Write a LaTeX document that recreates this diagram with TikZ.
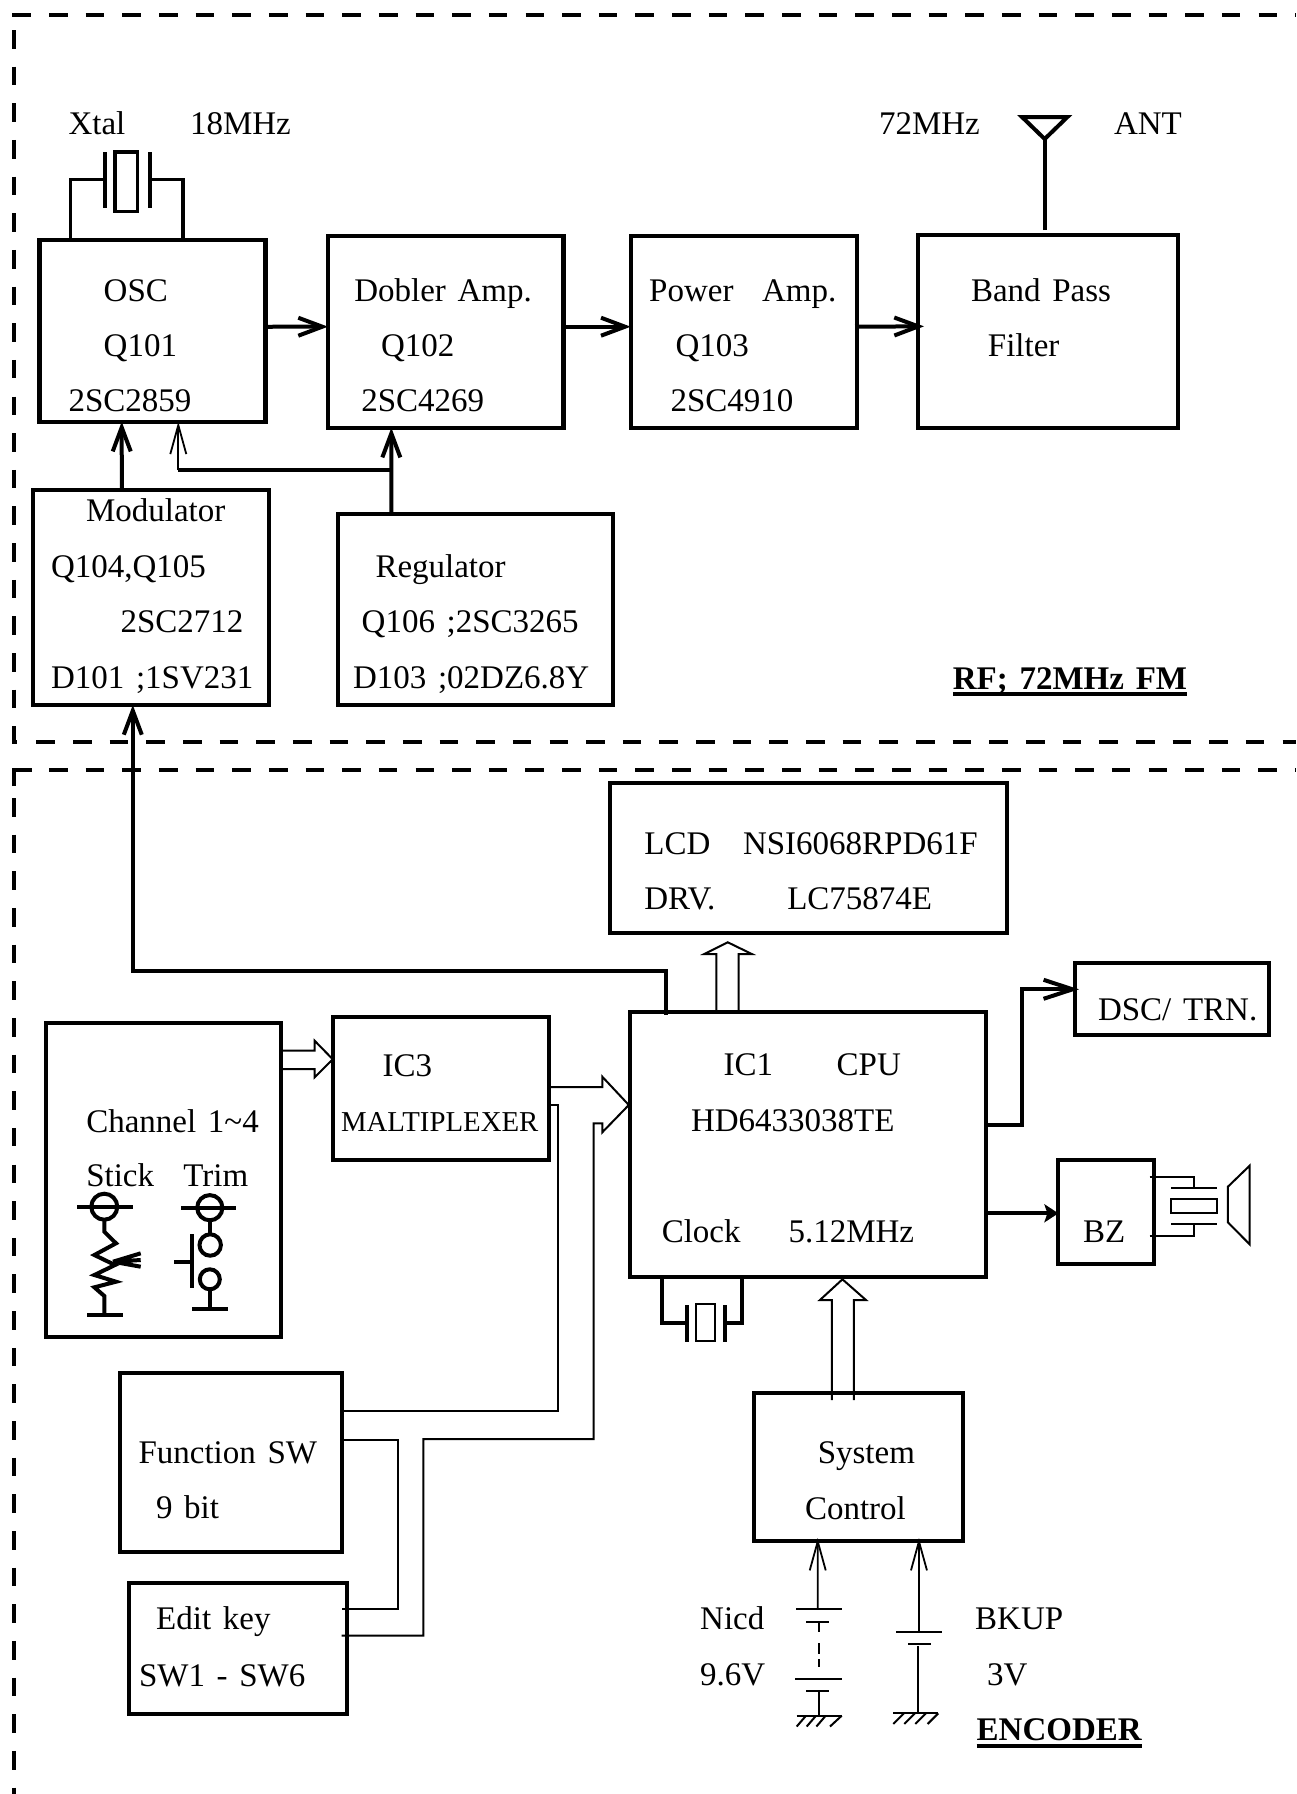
\documentclass[tikz,border=0pt]{standalone}
\usepackage{fontspec}
\setmainfont[WordSpace=1.42]{Liberation Serif}
\usetikzlibrary{arrows.meta}
\tikzset{
  blockbox/.style={draw,line width=4.1pt,inner sep=0,outer sep=0,line join=miter},
  txt/.style={anchor=base west,inner sep=0,outer sep=0,yshift=-1pt,font=\fontsize{33}{33}\selectfont},
  txtb/.style={txt,font=\fontsize{33}{33}\selectfont\bfseries},
  txts/.style={txt,font=\fontsize{28.8}{28.8}\selectfont},
  heavy/.style={line width=4pt},
  thinline/.style={line width=1.8pt},
  medium/.style={line width=3.2pt},
  bus/.style={line width=2pt,line join=miter},
  dashline/.style={line width=4pt,dash pattern=on 18.6pt off 18.05pt},
  barb/.style={-{Straight Barb[length=24pt,width=18pt,line width=4pt]},line width=4pt},
  barbthin/.style={-{Straight Barb[length=29pt,width=16pt,line width=1.8pt]},line width=1.8pt},
}
\newcommand\bx[5]{\node[blockbox,minimum width={(#4)-(#2)},minimum height={(#5)-(#3)}] (#1) at ({((#2)+(#4))/2},{((#3)+(#5))/2}) {};}
\begin{document}
\begin{tikzpicture}[x=1pt,y=-1pt]
\useasboundingbox (0,0) rectangle (1296,1794);

% dashed frames
\draw[dashline] (12.4,15) -- (1296,15);
\draw[dashline] (14,30) -- (14,741.7);
\draw[heavy] (12,741.7) -- (17,741.7);
\draw[dashline] (36.4,741.7) -- (1296,741.7);
\draw[heavy] (14,786) -- (14,770) -- (32,770);
\draw[dashline] (49,770) -- (1296,770);
\draw[dashline] (14,798) -- (14,1794);

% blocks
\bx{osc}{39.5}{240}{265.5}{421.7}
\bx{dob}{328}{235.7}{563.5}{427.7}
\bx{pwr}{630.7}{235.7}{857}{427.7}
\bx{bpf}{918}{235}{1178}{427.7}
\bx{mod}{32.8}{490}{268.8}{705}
\bx{reg}{338}{514.3}{612.6}{705}
\bx{lcd}{609.8}{782.7}{1006.6}{933}
\bx{cpu}{629.7}{1011.7}{986.4}{1277}
\bx{dsc}{1075}{962.7}{1269}{1035}
\bx{bz}{1058.4}{1160}{1153.8}{1264}
\bx{chn}{45.8}{1022.7}{281.4}{1337}
\bx{mux}{332.8}{1016.7}{549.4}{1160}
\bx{fn}{120}{1372.7}{341.7}{1552}
\bx{edit}{129}{1583.3}{347.3}{1714}
\bx{sys}{754}{1393}{962.7}{1540.7}

% texts
\node[txt] (t1) at (68.5,133.3) {Xtal};
\node[txt] (t2) at (190,133.3) {18MHz};
\node[txt] (t3) at (879,133.3) {72MHz};
\node[txt] (t4) at (1114,133.3) {ANT};
\node[txt] (t5) at (103.7,300) {OSC};
\node[txt] (t6) at (103.7,355.7) {Q101};
\node[txt] (t7) at (68.5,410.7) {2SC2859};
\node[txt] (t8) at (354.3,300) {Dobler Amp.};
\node[txt] (t9) at (381,355.7) {Q102};
\node[txt] (t10) at (361.3,410.7) {2SC4269};
\node[txt] (t11) at (649.2,300) {Power\hspace{28.5pt}Amp.};
\node[txt] (t12) at (675.5,355.7) {Q103};
\node[txt] (t13) at (670.6,410.7) {2SC4910};
\node[txt] (t14) at (971,300) {Band Pass};
\node[txt] (t15) at (987.9,355.7) {Filter};
\node[txt] (t16) at (86,520) {Modulator};
\node[txt] (t17) at (51,576) {Q104,Q105};
\node[txt] (t18) at (120.6,631.7) {2SC2712};
\node[txt] (t19) at (51,687.3) {D101 ;1SV231};
\node[txt] (t20) at (375.5,576.7) {Regulator};
\node[txt] (t21) at (361.7,631.7) {Q106 ;2SC3265};
\node[txt] (t22) at (353,687.3) {D103 ;02DZ6.8Y};
\node[txtb] (rf) at (952.9,688.3) {RF; 72MHz FM};
\draw[line width=4pt] ([yshift=-5]rf.base west) -- ([yshift=-5]rf.base east);
\node[txt] (t23) at (644.4,853.3) {LCD};
\node[txt] (t24) at (743,853.3) {NSI6068RPD61F};
\node[txt] (t25) at (644.4,908.3) {DRV.};
\node[txt] (t26) at (787.3,908.3) {LC75874E};
\node[txt] (t27) at (1098,1019.3) {DSC/ TRN.};
\node[txt] (t28) at (723.7,1074.3) {IC1};
\node[txt] (t29) at (836.7,1074.3) {CPU};
\node[txt] (t30) at (691,1130) {HD6433038TE};
\node[txt] (t31) at (661.8,1241) {Clock};
\node[txt] (t32) at (788.5,1241) {5.12MHz};
\node[txt] (t33) at (1083,1241) {BZ};
\node[txt] (t34) at (382.6,1075) {IC3};
\node[txts] (t35) at (341,1130.7) {MALTIPLEXER};
\node[txt] (t36) at (86.3,1131) {Channel 1\symbol{126}4};
\node[txt] (t37) at (86.3,1185.3) {Stick};
\node[txt] (t38) at (183.4,1185.3) {Trim};
\node[txt] (t39) at (138.5,1462.7) {Function SW};
\node[txt] (t40) at (156,1517.7) {9 bit};
\node[txt] (t41) at (156.2,1628.7) {Edit key};
\node[txt] (t42) at (139,1685) {SW1 - SW6};
\node[txt] (t43) at (817.8,1462.7) {System};
\node[txt] (t44) at (805,1518) {Control};
\node[txt] (t45) at (700.2,1628.3) {Nicd};
\node[txt] (t46) at (700.2,1684.3) {9.6V};
\node[txt] (t47) at (975.2,1628.3) {BKUP};
\node[txt] (t48) at (987,1684.3) {3V};
\node[txtb] (enc) at (976.7,1739) {ENCODER};
\draw[line width=4pt] ([yshift=-6.3]enc.base west) -- ([yshift=-6.3]enc.base east);

% signal chain
\draw[barb] ([yshift=4.1]osc.east) -- ([yshift=5]dob.west);
\draw[barb] ([yshift=5]dob.east) -- ([yshift=5]pwr.west);
\draw[barb] ([yshift=5,xshift=-2]pwr.east) -- ([yshift=5,xshift=6]bpf.west);
\draw[heavy] ([xshift=-3.3,yshift=5]bpf.north) -- ++(0,-91) coordinate (antb);
\draw[heavy,line join=miter] (antb) -- ++(-22.7,-22) -- ++(45.4,0) -- cycle;

% crystal 18 MHz
\draw[medium] ([xshift=-82,yshift=-1]osc.north) -- ++(0,-61.3) -- ++(33.2,0);
\draw[medium] ([xshift=30.5,yshift=-1]osc.north) -- ++(0,-61.3) -- ++(-31,0);
\draw[heavy] (105,152) -- (105,208);
\draw[heavy] (150,152) -- (150,208);
\draw[medium] (115,152) rectangle (137.8,211.7);

% modulator, regulator feeds
\draw[barb] ([xshift=-29]mod.north) -- ([xshift=-30.8]osc.south);
\draw[barb] ([xshift=-84]reg.north) -- ([xshift=-54.4]dob.south);
\coordinate (rj) at ([xshift=-84,yshift=44.3]reg.north);
\draw[heavy] (rj) -- (178.3,470) coordinate (rk);
\draw[barbthin] (rk) -- ([xshift=25.8]osc.south);

% cpu to modulator
\coordinate (jog) at (132.8,970.7);
\draw[barb] ([xshift=36,yshift=-3]cpu.north west) |- (jog) -- ([xshift=-18]mod.south);

% wide open arrows
\draw[bus] ([xshift=86.6]cpu.north west) -- ++(0,-57.7) -- ++(-12,0) -- ++(23.5,-11.7) -- ++(24,11.7) -- ++(-13.3,0) -- ([xshift=108.8]cpu.north west);
\draw[bus] ([yshift=-28]chn.north east) -- ++(33.2,0) -- ++(0,-10) -- ([yshift=-42.6]mux.north west) -- ++(-18.2,18) -- ++(0,-8.3) -- ([yshift=-46.3]chn.north east);
\draw[bus] ([xshift=-26.4,yshift=-7]sys.north) -- ++(0,-100) -- ++(-12,0) -- ++(22.5,-20.7) -- ++(23.5,20.7) -- ++(-12.2,0) -- ([xshift=-4.6,yshift=-7]sys.north);

% IC3 / function / edit bus
\draw[bus] ([yshift=-70.3]mux.north east) -- ++(52.9,0) -- ++(0,-10.3) -- ([xshift=-0.9,yshift=-93.3]cpu.north west) -- ++(-26.5,27.3) -- ++(0,-9) -- ++(-8.8,0) |- (423.3,1439) |- ([xshift=-5.6,yshift=-52.4]edit.north east);
\draw[bus] ([yshift=-88.6]mux.north east) -- ++(8.6,0) |- ([yshift=-38]fn.north east);
\draw[bus] ([yshift=-67.3]fn.north east) -- ++(56,0) |- ([xshift=-5,yshift=-26]edit.north east);

% DSC, buzzer
\draw[-{Straight Barb[length=29pt,width=19pt,line width=4pt]},line width=4pt] ([yshift=-113]cpu.north east) -- ++(35.2,0) |- ([xshift=4,yshift=-26.6]dsc.north west);
\draw[line width=4pt,-{Stealth[length=14pt,width=18pt,inset=3pt]}] ([yshift=-201.6]cpu.north east) -- ([yshift=-53.3]bz.north west);

% buzzer symbol
\draw[bus] ([xshift=-4.2,yshift=-17]bz.north east) -- ++(44.8,0) -- ++(0,10.7);
\draw[bus] ([xshift=-4.2,yshift=-75.7]bz.north east) -- ++(44.8,0) -- ++(0,-12);
\draw[bus] (1171.4,1187.7) -- (1216.6,1187.7);
\draw[bus] (1171.4,1223.7) -- (1216.6,1223.7);
\draw[bus] (1171.4,1198.7) rectangle (1216.6,1212.7);
\draw[bus] (1227.9,1186.7) -- (1249.6,1165.7) -- (1249.6,1244.3) -- (1227.9,1222.3) -- cycle;

% clock crystal
\draw[heavy] ([xshift=32.1]cpu.south west) -- ++(0,46.3) -- ++(24,0);
\draw[heavy] ([xshift=112]cpu.south west) -- ++(0,46.3) -- ++(-17,0);
\draw[heavy] (687.3,1305) -- (687.3,1341.7);
\draw[heavy] (724.5,1305) -- (724.5,1341.7);
\draw[bus] (695.6,1304.3) rectangle (714.5,1341);

% batteries
\draw[barbthin] (817.7,1608.7) -- ([xshift=-40.6,yshift=2.7]sys.south);
\draw[bus] (796,1608.7) -- (842,1608.7);
\draw[bus] (806,1622) -- (829,1622);
\draw[bus] (818.7,1622) -- (818.7,1631.7);
\draw[bus] (818.7,1643.3) -- (818.7,1654.3);
\draw[bus] (818.7,1659.3) -- (818.7,1666.7);
\draw[bus] (795,1679) -- (842,1679);
\draw[bus] (806,1691) -- (829,1691);
\draw[bus] (818.7,1691) -- (818.7,1715.7);
\draw[bus] (796.7,1715.7) -- (841.7,1715.7);
\draw[bus] (806,1715.7) -- (796.7,1726.5) (816,1715.7) -- (806.7,1726.5) (825.7,1715.7) -- (816.4,1726.5) (841.7,1715.7) -- (830,1726.5);
\draw[barbthin] (919,1632) -- ([xshift=60.6,yshift=2.7]sys.south);
\draw[bus] (896,1632) -- (942,1632);
\draw[bus] (908,1644) -- (931,1644);
\draw[bus] (918.3,1646) -- (918.3,1713.3);
\draw[bus] (893.3,1713.3) -- (938.3,1713.3);
\draw[bus] (904,1713.3) -- (893.3,1724) (915,1713.3) -- (904.3,1724) (926,1713.3) -- (915.3,1724) (938.3,1713.3) -- (927.6,1724);

% stick symbol
\draw[heavy] (77.4,1206.7) -- (132.8,1206.7);
\draw[heavy] (104.3,1206.7) circle (13);
\draw[heavy,line join=miter] (104.3,1219.7) -- (104.3,1231.7) -- (116,1243.3) -- (94.4,1255) -- (115,1265) -- (94.4,1275) -- (116,1281.7) -- (94.4,1287.3) -- (104.3,1296) -- (104.3,1315);
\draw[heavy] (87.3,1315) -- (122.9,1315);
\draw[heavy] (113,1261.7) -- (140.7,1260) (113,1261.7) -- (140.7,1253.3) (113,1261.7) -- (140.7,1266.7);

% trim symbol
\draw[heavy] (181,1207.7) -- (235.5,1207.7);
\draw[heavy] (209.8,1207.7) circle (12.6);
\draw[heavy] (209.8,1220.3) -- (209.8,1234.3);
\draw[heavy] (210.2,1245) circle (10.7);
\draw[heavy] (192,1234.3) -- (192,1288.3);
\draw[heavy] (174.3,1261.7) -- (192,1261.7);
\draw[heavy] (209.8,1279.3) circle (10);
\draw[heavy] (209.8,1289.3) -- (209.8,1309);
\draw[heavy] (192,1309) -- (227.6,1309);
\end{tikzpicture}
\end{document}
